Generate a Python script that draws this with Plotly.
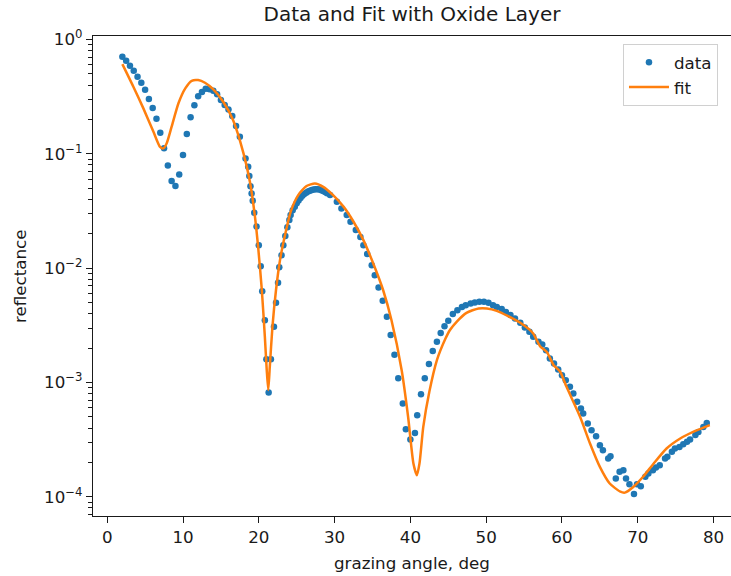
import plotly.graph_objects as go

# measured reflectance vs grazing angle (deg)
angle_data = [
    2.0, 2.5, 3.0, 3.5, 4.0, 4.5, 5.0, 5.5, 6.0, 6.5, 7.0, 7.5, 8.0, 8.5, 9.0, 9.5,
    10.0, 10.5, 11.0, 11.5, 12.0, 12.5, 13.0, 13.5, 14.0, 14.5, 15.0, 15.5, 16.0,
    16.5, 17.0, 17.5, 18.25, 18.6, 18.75, 18.9, 19.05, 19.2, 19.4, 19.7, 20.0,
    20.25, 20.45, 20.8, 21.0, 21.3, 21.6, 22.0, 22.27, 22.54, 22.7, 23.0, 23.24,
    23.5, 23.77, 24.03, 24.2, 24.47, 24.75, 25.0, 25.25, 25.5, 25.75, 26.0, 26.25,
    26.5, 26.75, 27.0, 27.25, 27.5, 27.75, 28.0, 28.25, 28.5, 28.75, 29.0, 29.4,
    30.3, 30.9, 31.6, 32.1, 32.8, 33.4, 33.8, 34.3, 34.9, 35.3, 35.8, 36.35, 36.9,
    37.4, 37.9, 38.4, 39.0, 39.4, 40.0, 40.6, 40.9, 41.4, 41.9, 42.45, 42.95, 43.5,
    44.0, 44.5, 45.0, 45.6, 46.2, 46.8, 47.3, 47.95, 48.5, 49.1, 49.7, 50.3, 50.9,
    51.4, 52.05, 52.6, 53.2, 53.8, 54.5, 55.1, 55.7, 56.2, 56.9, 57.4, 57.9, 58.4,
    58.95, 59.5, 60.0, 60.5, 61.05, 61.5, 62.0, 62.5, 62.8, 63.4, 63.9, 64.5, 65.0,
    65.4, 66.1, 66.4, 67.1, 67.6, 68.1, 68.45, 68.9, 69.5, 69.9, 70.4, 71.0, 71.4,
    72.0, 72.4, 72.9, 73.6, 73.9, 74.5, 74.9, 75.5, 76.0, 76.5, 76.9, 77.6, 78.0,
    78.65, 79.1,
]
refl_data = [
    0.707, 0.652, 0.590, 0.533, 0.473, 0.419, 0.364, 0.302, 0.252, 0.203, 0.153,
    0.112, 0.0793, 0.0578, 0.0523, 0.0661, 0.0977, 0.149, 0.209, 0.266, 0.320,
    0.347, 0.371, 0.367, 0.356, 0.333, 0.296, 0.267, 0.245, 0.214, 0.175, 0.141,
    0.091, 0.077, 0.064, 0.052, 0.045, 0.039, 0.0305, 0.0232, 0.0159, 0.0104,
    0.0063, 0.0035, 0.0016, 0.00082, 0.0016, 0.00307, 0.00498, 0.00745, 0.0102,
    0.0130, 0.0159, 0.0191, 0.0228, 0.0264, 0.0292, 0.0322, 0.0345, 0.0370,
    0.0392, 0.0412, 0.0430, 0.0445, 0.0458, 0.0468, 0.0477, 0.0484, 0.0489,
    0.0491, 0.0490, 0.0487, 0.0481, 0.0473, 0.0463, 0.0452, 0.0436, 0.0381,
    0.0333, 0.0292, 0.0255, 0.0216, 0.0188, 0.0159, 0.0133, 0.01064, 0.0087,
    0.0068, 0.00519, 0.00376, 0.0026, 0.00175, 0.00109, 0.000656, 0.00039,
    0.000318, 0.000363, 0.000519, 0.000792, 0.00109, 0.00145, 0.00189, 0.00227,
    0.00272, 0.00311, 0.00347, 0.00397, 0.0043, 0.00459, 0.00475, 0.00492,
    0.00502, 0.00508, 0.00508, 0.00498, 0.00475, 0.00459, 0.00439, 0.00415,
    0.00389, 0.00364, 0.00333, 0.00303, 0.00278, 0.00251, 0.00227, 0.00215,
    0.00192, 0.00162, 0.00147, 0.0013, 0.00116, 0.00105, 0.000917, 0.000803,
    0.000678, 0.000593, 0.000537, 0.000439, 0.000383, 0.00034, 0.000283,
    0.000256, 0.000217, 0.000227, 0.000145, 0.000166, 0.000171, 0.000145,
    0.000129, 0.000106, 0.000129, 0.000124, 0.00015, 0.00016, 0.000171,
    0.000181, 0.000189, 0.000217, 0.000224, 0.000248, 0.000265, 0.000273,
    0.000289, 0.000303, 0.000318, 0.000347, 0.00037, 0.000409, 0.000443,
]

# model curve (substrate with oxide layer)
angle_fit = [
    2.0, 3.45, 4.77, 6.1, 6.97, 7.4, 7.85, 8.5, 9.4, 10.3, 11.15, 12.0, 12.9, 14.0,
    15.3, 16.6, 18.0, 18.85, 19.5, 19.95, 20.4, 20.8, 21.05, 21.25, 21.45, 21.8,
    22.27, 22.8, 23.46, 24.2, 25.2, 26.3, 27.4, 28.5, 29.8, 31.2, 32.5, 33.8, 35.1,
    36.4, 37.5, 38.85, 39.7, 40.4, 40.85, 41.2, 41.7, 42.5, 43.5, 44.6, 45.2, 46.1,
    47.4, 49.0, 50.1, 51.4, 52.9, 54.5, 56.2, 57.1, 58.0, 58.9, 59.75, 60.6, 62.4,
    63.7, 65.0, 66.3, 67.7, 68.3, 69.4, 70.7, 72.1, 73.8, 75.6, 77.3, 79.5,
]
refl_fit = [
    0.61, 0.387, 0.25, 0.156, 0.115, 0.1117, 0.124, 0.173, 0.277, 0.374, 0.436,
    0.442, 0.419, 0.367, 0.286, 0.198, 0.10, 0.056, 0.028, 0.0144, 0.00645,
    0.00251, 0.00128, 0.00086, 0.00137, 0.00307, 0.00645, 0.0118, 0.0195, 0.0311,
    0.0436, 0.0523, 0.0552, 0.0515, 0.0436, 0.0344, 0.0255, 0.0176, 0.011,
    0.00645, 0.00352, 0.00128, 0.0005, 0.000196, 0.000155, 0.000196, 0.00041,
    0.00083, 0.00157, 0.0024, 0.00287, 0.0034, 0.00407, 0.00445, 0.00445,
    0.00424, 0.00381, 0.00333, 0.00269, 0.00208, 0.00185, 0.00142, 0.00125,
    0.000917, 0.0005, 0.000293, 0.000183, 0.000131, 0.000111, 0.000109, 0.000122,
    0.00015, 0.000196, 0.000265, 0.000324, 0.00037, 0.000424,
]

x_ticks = [0, 10, 20, 30, 40, 50, 60, 70, 80]
y_ticks = [1e-4, 1e-3, 1e-2, 1e-1, 1e0]
y_tick_text = ["10<sup>\u22124</sup>", "10<sup>\u22123</sup>", "10<sup>\u22122</sup>",
               "10<sup>\u22121</sup>", "10<sup>0</sup>"]

FONT = "DejaVu Sans"
FS = 16.7
INK = "#1a1a1a"

minor_vals = [m * 10.0 ** k for k in range(-5, 0) for m in range(2, 10)]

fig = go.Figure()
fig.add_trace(go.Scatter(
    x=angle_data, y=refl_data, mode="markers", name="data",
    marker=dict(color="#1f77b4", size=6.5, line=dict(width=0)),
))
fig.add_trace(go.Scatter(
    x=angle_fit, y=refl_fit, mode="lines", name="fit",
    line=dict(color="#ff7f0e", width=2.5, shape="spline", smoothing=0.6),
))

fig.update_layout(
    width=731, height=576,
    margin=dict(l=93, r=0, t=36, b=60),
    paper_bgcolor="white", plot_bgcolor="white",
    font=dict(family=FONT, size=FS, color=INK),
    title=dict(text="Data and Fit with Oxide Layer", x=0.5, xref="paper",
               xanchor="center", y=1 - 14 / 576, yref="container",
               yanchor="middle", font=dict(size=20, color=INK, family=FONT)),
    showlegend=True,
    legend=dict(x=0.8307, y=0.9833, xanchor="left", yanchor="top",
                bgcolor="rgba(255,255,255,0.8)", bordercolor="#d0d0d0",
                borderwidth=1, font=dict(size=FS, family=FONT, color=INK),
                itemwidth=40),
    annotations=[
        dict(text="reflectance", x=20, xref="paper", y=0.5, yref="paper",
             textangle=-90, showarrow=False, font=dict(size=FS, color=INK),
             xanchor="center", yanchor="middle"),
        dict(text="grazing angle, deg", x=0.5, xref="paper", y=-47 / 480,
             yref="paper", showarrow=False, font=dict(size=FS, color=INK),
             xanchor="center", yanchor="middle"),
    ],
)
# place y label by pixel position
fig.layout.annotations[0].x = (20 - 93) / 638

fig.update_xaxes(
    range=[-1.875, 82.3], tickvals=x_ticks, ticks="outside", ticklen=6,
    tickwidth=1.3, tickcolor=INK, showgrid=False, zeroline=False,
    showline=True, linecolor=INK, linewidth=1.3, mirror=True,
    tickfont=dict(size=FS, color=INK),
)
fig.update_yaxes(
    type="log", range=[-4.167, 0.031], tickvals=y_ticks, ticktext=y_tick_text,
    ticks="outside", ticklen=6, tickwidth=1.3, tickcolor=INK, showgrid=False,
    zeroline=False, showline=True, linecolor=INK, linewidth=1.3, mirror=False,
    tickfont=dict(size=FS, color=INK),
    minor=dict(tickvals=minor_vals, ticks="outside", ticklen=3.5, tickwidth=1,
               tickcolor=INK, showgrid=False),
)

fig.write_html("out.html")
